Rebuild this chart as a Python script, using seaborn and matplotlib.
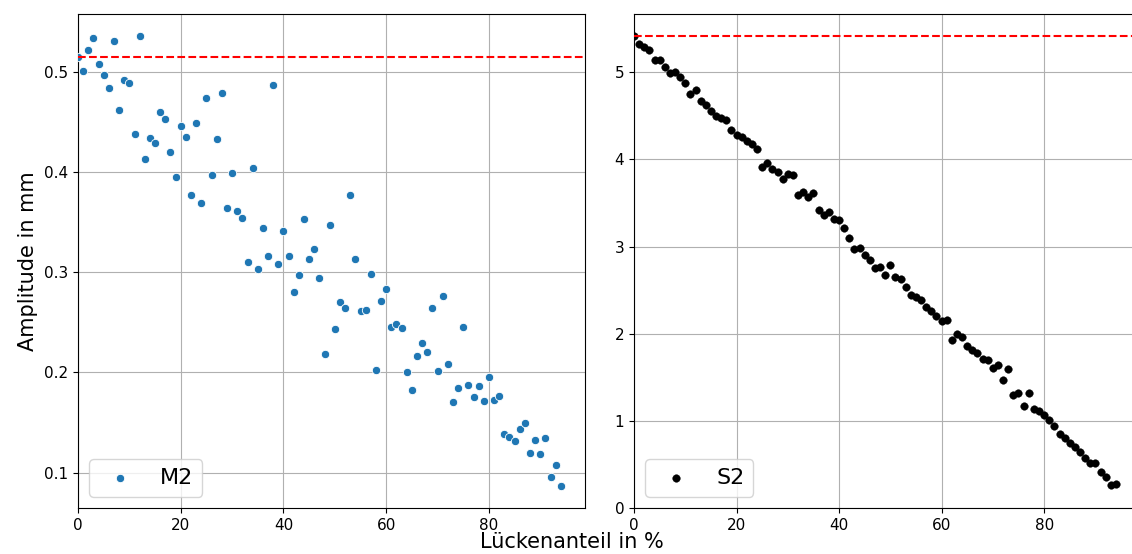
import matplotlib
matplotlib.use("Agg")
import matplotlib.pyplot as plt
import seaborn as sns
import pandas as pd

# Lückenanteil (percentage of gaps) for each evaluation
gap_pct = [
    0, 1, 2, 3, 4, 5, 6, 7, 8, 9, 10, 11, 12, 13, 14, 15, 16, 17, 18, 19,
    20, 21, 22, 23, 24, 25, 26, 27, 28, 29, 30, 31, 32, 33, 34, 35, 36, 37, 38, 39,
    40, 41, 42, 43, 44, 45, 46, 47, 48, 49, 50, 51, 52, 53, 54, 55, 56, 57, 58, 59,
    60, 61, 62, 63, 64, 65, 66, 67, 68, 69, 70, 71, 72, 73, 74, 75, 76, 77, 78, 79,
    80, 81, 82, 83, 84, 85, 86, 87, 88, 89, 90, 91, 92, 93, 94,
]

# M2 tidal amplitude in mm
m2_amp = [
    0.515, 0.501, 0.521, 0.533, 0.508, 0.497, 0.484, 0.530, 0.462, 0.492,
    0.489, 0.438, 0.535, 0.413, 0.434, 0.429, 0.460, 0.453, 0.420, 0.395,
    0.446, 0.435, 0.377, 0.449, 0.369, 0.474, 0.397, 0.433, 0.479, 0.364,
    0.399, 0.361, 0.354, 0.310, 0.404, 0.303, 0.344, 0.316, 0.487, 0.308,
    0.341, 0.316, 0.280, 0.297, 0.353, 0.313, 0.323, 0.294, 0.218, 0.347,
    0.243, 0.270, 0.264, 0.377, 0.313, 0.261, 0.262, 0.298, 0.202, 0.271,
    0.283, 0.245, 0.248, 0.244, 0.200, 0.182, 0.216, 0.229, 0.220, 0.264,
    0.201, 0.276, 0.208, 0.170, 0.184, 0.245, 0.187, 0.175, 0.186, 0.171,
    0.195, 0.172, 0.176, 0.138, 0.135, 0.131, 0.143, 0.149, 0.119, 0.132,
    0.118, 0.134, 0.096, 0.107, 0.087,
]

# S2 tidal amplitude in mm
s2_amp = [
    5.41, 5.32, 5.29, 5.26, 5.14, 5.14, 5.06, 4.99, 5.00, 4.95,
    4.88, 4.75, 4.80, 4.67, 4.62, 4.55, 4.50, 4.47, 4.45, 4.34,
    4.28, 4.26, 4.21, 4.18, 4.12, 3.91, 3.96, 3.89, 3.86, 3.78,
    3.83, 3.82, 3.59, 3.62, 3.57, 3.61, 3.42, 3.36, 3.40, 3.31,
    3.30, 3.21, 3.10, 2.97, 2.98, 2.90, 2.84, 2.75, 2.77, 2.67,
    2.79, 2.65, 2.63, 2.53, 2.44, 2.42, 2.39, 2.31, 2.26, 2.20,
    2.15, 2.16, 1.93, 2.00, 1.96, 1.86, 1.81, 1.78, 1.71, 1.70,
    1.61, 1.64, 1.47, 1.59, 1.30, 1.32, 1.17, 1.32, 1.14, 1.11,
    1.07, 1.01, 0.94, 0.85, 0.80, 0.75, 0.70, 0.64, 0.57, 0.52,
    0.52, 0.41, 0.36, 0.26, 0.28,
]

df = pd.DataFrame({"gap": gap_pct, "M2": m2_amp, "S2": s2_amp})

W, H = 1132, 554
fig = plt.figure(figsize=(W / 100, H / 100), dpi=100)

bottom = (H - 508) / H
height = (508 - 14) / H
ax1 = fig.add_axes([78 / W, bottom, 507 / W, height])
ax2 = fig.add_axes([634 / W, bottom, 506 / W, height])

# left panel: M2
sns.scatterplot(data=df, x="gap", y="M2", ax=ax1, color="#1f77b4", s=36,
                edgecolor="white", linewidth=0.6, label="M2", zorder=3)
ax1.axhline(m2_amp[0], color="red", linestyle="--", linewidth=1.5, zorder=4)
ax1.set_xlim(left=0)
ax1.set_ylabel("Amplitude in mm", fontsize=15)

# right panel: S2
sns.scatterplot(data=df, x="gap", y="S2", ax=ax2, color="black", s=30,
                edgecolor="black", linewidth=0.3, label="S2", zorder=3)
ax2.axhline(s2_amp[0], color="red", linestyle="--", linewidth=1.5, zorder=4)
ax2.set_xlim(left=0)
ax2.set_ylim(bottom=0)
ax2.set_ylabel("")

for ax in (ax1, ax2):
    ax.set_xlabel("")
    ax.grid(True, color="#b0b0b0", linewidth=0.8)
    ax.set_axisbelow(True)
    ax.tick_params(labelsize=11)
    ax.set_xticks([0, 20, 40, 60, 80])
    ax.legend(loc="lower left", fontsize=16)

fig.text(0.505, 0.003, "Lückenanteil in %", ha="center", va="bottom", fontsize=15)

fig.savefig("out.png", dpi=100)
